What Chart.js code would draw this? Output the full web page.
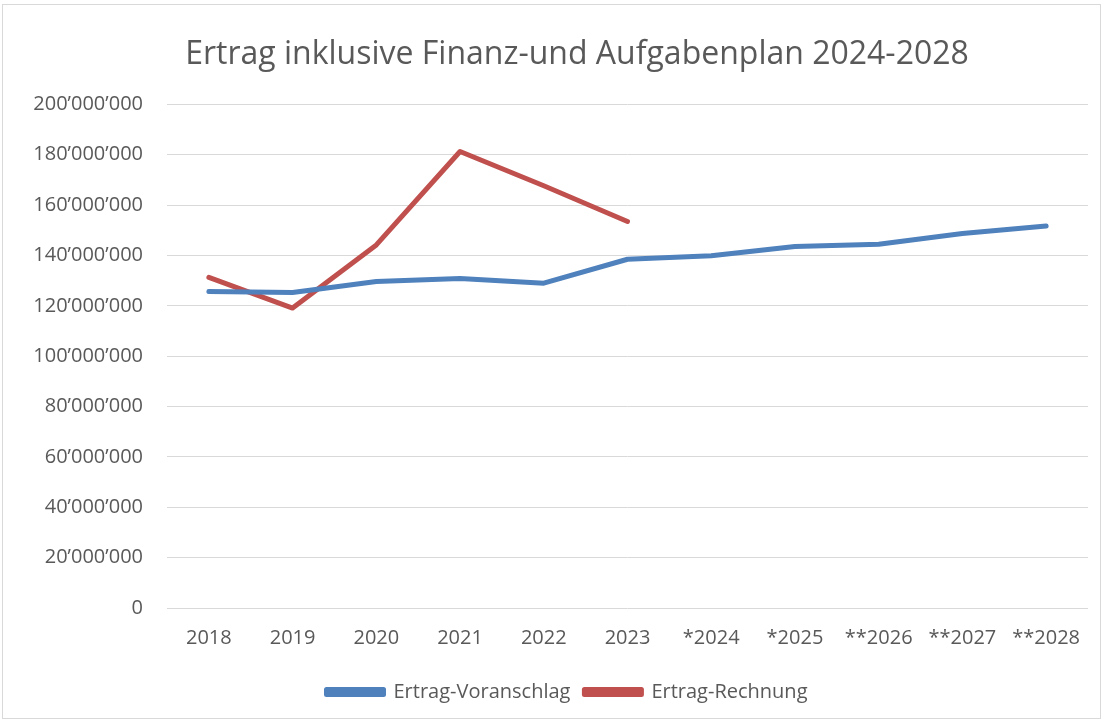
<!DOCTYPE html>
<html>
<head>
<meta charset="utf-8">
<script src="https://cdn.jsdelivr.net/npm/chart.js@4.4.1/dist/chart.umd.min.js"></script>
<style>
  html, body { margin: 0; padding: 0; background: #fff; }
  #frame { position: absolute; left: 2px; top: 4px; width: 1097px; height: 713px; border: 1px solid #d9d9d9; }
  #wrap { position: absolute; left: 0; top: 0; width: 1105px; height: 723px; }
</style>
</head>
<body>
<div id="frame"></div>
<div id="wrap"><canvas id="ertragChart" width="1105" height="723"></canvas></div>
<script>
const years = ['2018', '2019', '2020', '2021', '2022', '2023', '*2024', '*2025', '**2026', '**2027', '**2028'];
const voranschlag = [125700000, 125300000, 129700000, 130900000, 129000000, 138500000, 139900000, 143600000, 144500000, 148700000, 151700000];
const rechnung = [131300000, 119100000, 144200000, 181300000, 167700000, 153500000, null, null, null, null, null];
const seriesNames = ['Ertrag-Voranschlag', 'Ertrag-Rechnung'];
const seriesColors = ['#4f81bd', '#c0504d'];

const fontFamily = "'Open Sans', 'Noto Sans', sans-serif";
const textColor = '#595959';

function formatNumber(v) {
    return String(v).replace(/\B(?=(\d{3})+(?!\d))/g, '\u2019');
}

// title and legend sit a bit right of the canvas centre in the original
const shiftBlocks = {
    id: 'shiftBlocks',
    afterLayout(chart) {
        chart.titleBlock.left = 66;
        chart.legend.left = 46;
    }
};

document.addEventListener('DOMContentLoaded', () => {
    const ctx = document.getElementById('ertragChart').getContext('2d');
    new Chart(ctx, {
        type: 'line',
        data: {
            labels: years,
            datasets: [voranschlag, rechnung].map((values, i) => ({
                label: seriesNames[i],
                data: values,
                borderColor: seriesColors[i],
                backgroundColor: seriesColors[i],
                borderWidth: 5,
                borderCapStyle: 'round',
                borderJoinStyle: 'round',
                pointRadius: 0,
                tension: 0,
                spanGaps: false
            }))
        },
        plugins: [shiftBlocks],
        options: {
            responsive: false,
            animation: false,
            layout: { padding: { left: 0, right: 17, top: 0, bottom: 11 } },
            scales: {
                x: {
                    offset: true,
                    grid: { display: false, drawTicks: false },
                    border: { display: false },
                    ticks: { color: textColor, font: { family: fontFamily, size: 20 }, padding: 18, maxRotation: 0, autoSkip: false }
                },
                y: {
                    min: 0,
                    max: 200000000,
                    grid: { color: '#d9d9d9', lineWidth: 1, drawTicks: false },
                    border: { display: false },
                    ticks: {
                        stepSize: 20000000,
                        color: textColor,
                        font: { family: fontFamily, size: 20 },
                        padding: 24,
                        callback: v => formatNumber(v)
                    },
                    afterFit: scale => { scale.width = 167; }
                }
            },
            plugins: {
                title: {
                    display: true,
                    text: 'Ertrag inklusive Finanz-und Aufgabenplan 2024-2028',
                    color: textColor,
                    font: { family: fontFamily, size: 32, weight: 'normal' },
                    padding: { top: 36, bottom: 30 }
                },
                legend: {
                    position: 'bottom',
                    labels: {
                        color: textColor,
                        font: { family: fontFamily, size: 20 },
                        boxWidth: 57,
                        boxHeight: 5,
                        padding: 14
                    }
                },
                tooltip: { enabled: false }
            }
        }
    });
});
</script>
</body>
</html>
